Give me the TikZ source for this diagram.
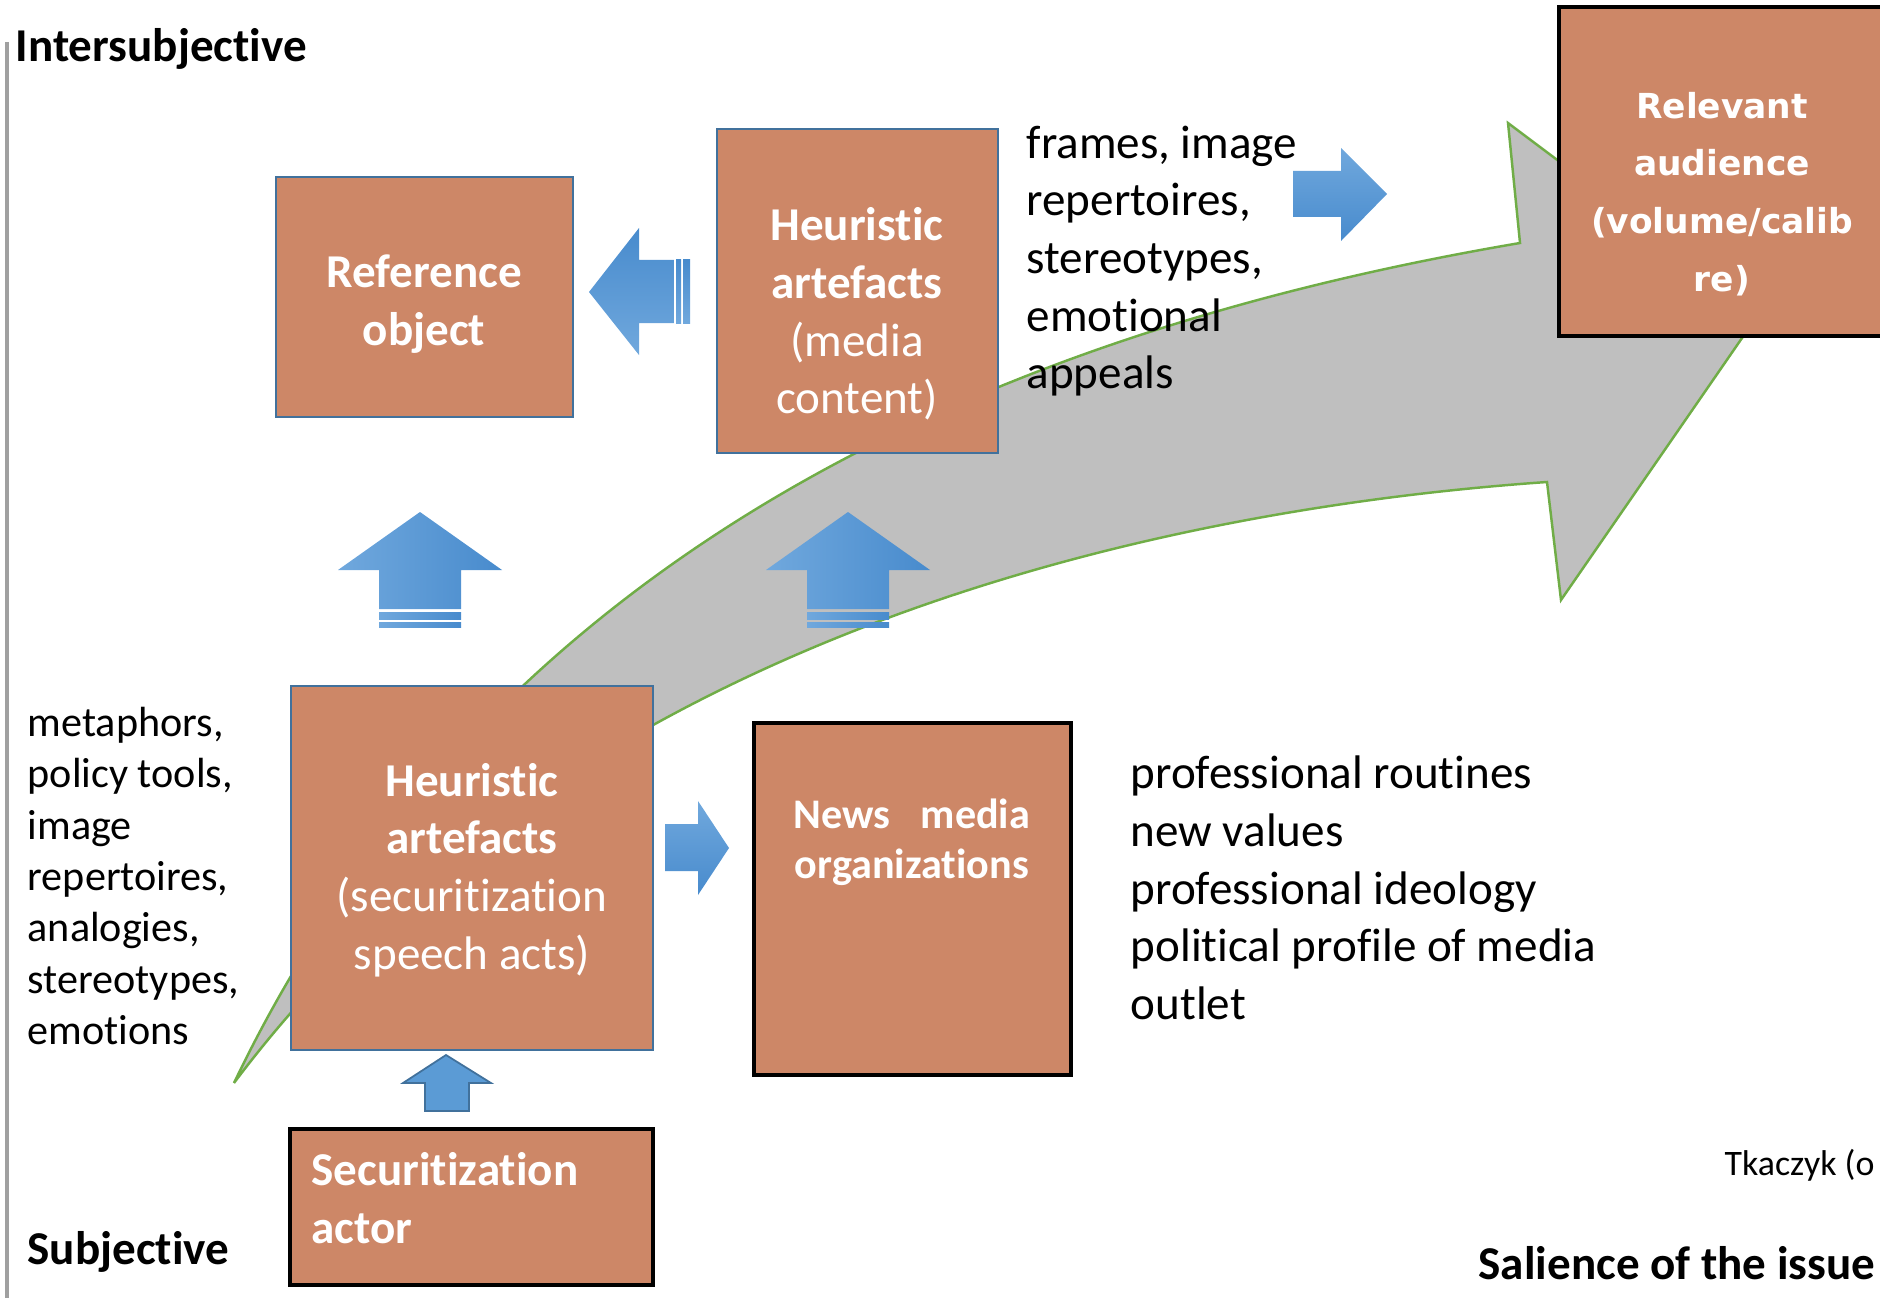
\documentclass[tikz,border=0pt]{standalone}
\usepackage{fontspec}
\setmainfont{Carlito}[Ligatures=NoCommon]
\newfontfamily\audiencefont{DejaVu Sans}
\usepackage{xcolor}

\definecolor{boxfill}{RGB}{205,135,103}
\definecolor{boxblue}{RGB}{65,113,156}
\definecolor{arrowgray}{RGB}{191,191,191}
\definecolor{arrowgreen}{RGB}{112,173,71}
\definecolor{arrowlight}{RGB}{112,168,221}
\definecolor{arrowdark}{RGB}{72,139,205}
\definecolor{arrowmid}{RGB}{91,155,213}
\definecolor{axisgray}{RGB}{160,160,160}

\tikzset{
  bluebox/.style={draw=boxblue,line width=0.7pt,fill=boxfill,inner sep=0pt},
  blackbox/.style={draw=black,line width=1pt,fill=boxfill,inner sep=0pt},
  boxtext/.style={text=white,font=\bfseries\fontsize{13.4}{16.4}\selectfont,align=center,inner sep=0pt},
  plaintext/.style={font=\fontsize{13.4}{16.4}\selectfont,align=left,inner sep=0pt,anchor=west},
  axistext/.style={font=\bfseries\fontsize{13.4}{16.4}\selectfont,inner sep=0pt,anchor=west}
}

\begin{document}
\begin{tikzpicture}[x=0.1mm,y=-0.1mm]
\clip (0,0) rectangle (1880,1298);

\draw[axisgray,line width=1.1pt] (7,42) -- (7,1298);

% big salience arrow
\coordinate (tail) at (234,1083);
\coordinate (upin) at (1520,243);
\coordinate (upout) at (1508,123);
\coordinate (tip) at (1760,312);
\coordinate (lowout) at (1561,600);
\coordinate (lowin) at (1547,482);
\draw[arrowgreen,fill=arrowgray,line width=0.7pt,line join=miter]
  (tail) .. controls (473,584) and (943,341) .. (upin) -- (upout) -- (tip)
  -- (lowout) -- (lowin) .. controls (1117,512) and (556,653) .. (tail) -- cycle;

\node[bluebox,minimum width=29.7mm,minimum height=24mm] (refobj) at (424.5,297) {};
\node[bluebox,minimum width=28.1mm,minimum height=32.4mm] (media) at (857.5,291) {};
\node[blackbox,minimum width=33.1mm,minimum height=32.9mm] (audience) at (1724.5,171.5) {};
\node[bluebox,minimum width=36.2mm,minimum height=36.4mm] (speech) at (472,868) {};
\node[blackbox,minimum width=31.7mm,minimum height=35.2mm] (news) at (912.5,899) {};
\node[blackbox,minimum width=36.3mm,minimum height=15.6mm] (actor) at (471.5,1207) {};

\node[boxtext] (refobjtxt) at (424,304) {Reference\\object};
\node[boxtext] (mediatxt) at (857,314) {Heuristic\\artefacts\\\mdseries(media\\\mdseries content)};
\node[boxtext,font=\audiencefont\bfseries\fontsize{9.8}{16.4}\selectfont] (audiencetxt) at (1722,194)
  {Relevant\\audience\\(volume/calib\\re)};
\node[boxtext] (speechtxt) at (472,870) {Heuristic\\artefacts\\\mdseries(securitization\\\mdseries speech acts)};
\node[boxtext,font=\bfseries\fontsize{12}{14.3}\selectfont] (newstxt) at (912,842)
  {\makebox[5.6em][s]{News media}\\organizations};
\node[boxtext,align=left,anchor=west] (actortxt) at (311,1198) {Securitization\\actor};

% blue block arrows
\shade[top color=arrowdark,bottom color=arrowlight] (589,292) -- (639,228) -- (639,260) -- (674,260)
  -- (674,323) -- (639,323) -- (639,355) -- cycle;
\shade[top color=arrowdark,bottom color=arrowlight] (676,260) rectangle (681,323);
\shade[top color=arrowdark,bottom color=arrowlight] (683,260) rectangle (690,323);

\shade[top color=arrowlight,bottom color=arrowdark] (1293,171) -- (1341,171) -- (1341,148) -- (1387,194)
  -- (1341,241) -- (1341,217) -- (1293,217) -- cycle;
\shade[top color=arrowlight,bottom color=arrowdark] (665,824) -- (698,824) -- (698,801) -- (729,848)
  -- (698,895) -- (698,871) -- (665,871) -- cycle;

\foreach \x in {420,848} {
  \shade[left color=arrowlight,right color=arrowdark] (\x,512) -- ({\x+82},570) -- ({\x+41},570)
    -- ({\x+41},609) -- ({\x-41},609) -- ({\x-41},570) -- ({\x-82},570) -- cycle;
  \shade[left color=arrowlight,right color=arrowdark] ({\x-41},612) rectangle ({\x+41},619);
  \shade[left color=arrowlight,right color=arrowdark] ({\x-41},622) rectangle ({\x+41},627);
}

\draw[boxblue,fill=arrowmid,line width=0.5pt] (446,1055) -- (491,1083) -- (469,1083) -- (469,1111)
  -- (425,1111) -- (425,1083) -- (403,1083) -- cycle;

% side texts
\node[axistext] (inter) at (15,49) {Intersubjective};
\node[axistext] (subj) at (27,1252) {Subjective};
\node[axistext] (salience) at (1478,1263) {Salience of the issue};
\node[plaintext,font=\fontsize{10.2}{12}\selectfont] (source) at (1724,1165) {Tkaczyk (o};

\node[plaintext] (frames) at (1026,261) {frames, image\\repertoires,\\stereotypes,\\emotional\\appeals};
\node[plaintext,font=\fontsize{12}{14.6}\selectfont] (metaphors) at (27,876)
  {metaphors,\\policy tools,\\image\\repertoires,\\analogies,\\stereotypes,\\emotions};
\node[plaintext] (routines) at (1130,888)
  {professional routines\\new values\\professional ideology\\political profile of media\\outlet};
\end{tikzpicture}
\end{document}
